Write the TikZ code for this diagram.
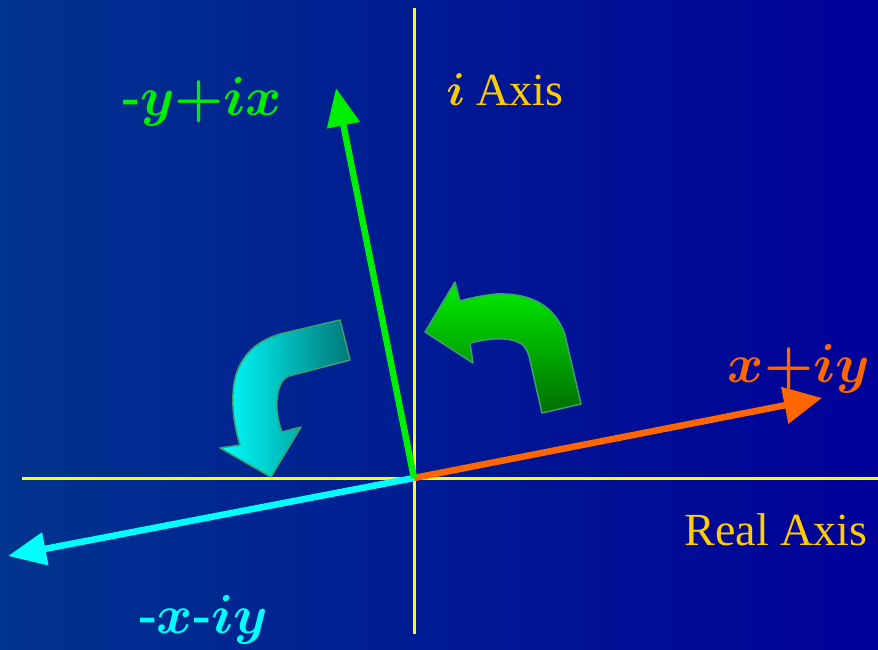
\documentclass[tikz,border=0pt]{standalone}
\usepackage{amsmath,bm,graphicx}
\usepackage{fontspec}
\setmainfont{Liberation Serif}
\usetikzlibrary{arrows.meta}
\definecolor{bgL}{RGB}{0,52,142}
\definecolor{bgR}{RGB}{0,0,152}
\definecolor{axisY}{RGB}{255,255,0}
\definecolor{txtY}{RGB}{255,204,0}
\definecolor{orangeA}{RGB}{255,102,0}
\definecolor{greenA}{RGB}{0,238,0}
\definecolor{cyanA}{RGB}{0,255,255}
\definecolor{edgeG}{RGB}{60,160,110}
\newcommand{\myscl}[1]{\scalebox{5.5}{\normalsize #1}}
\tikzset{
  axisline/.style={draw=axisY,line width=3pt},
  vec/.style={line width=6.5pt},
  mlabel/.style={inner sep=0pt},
  tlabel/.style={inner sep=0pt,text=txtY,font=\fontsize{46}{54}\selectfont},
  curv/.style={draw=edgeG,line width=1.5pt,line join=round}
}
\begin{document}
\begin{tikzpicture}[x=1pt,y=-1pt]
\useasboundingbox (0,0) rectangle (878,650);
\shade[left color=bgL,right color=bgR] (0,0) rectangle (878,650);
% axes
\coordinate (O) at (414,478);
\coordinate (xl) at (22,478);
\coordinate (xr) at (878,478);
\coordinate (yt) at (414,8);
\coordinate (yb) at (414,634);
\draw[axisline] (xl) -- (xr);
\draw[axisline] (yt) -- (yb);
% curved arrows
\shade[curv,top color=greenA,bottom color={rgb,255:red,0;green,110;blue,0}]
  (542,413) -- (581,404) -- (565,335)
  .. controls (555,305) and (530,293) .. (497,294)
  .. controls (485,295) and (470,298) .. (460,301)
  -- (455,282) -- (425,332) -- (473,363) -- (470,343)
  .. controls (490,338) and (510,336) .. (523,345)
  .. controls (527,350) and (528,353) .. (529,356)
  -- cycle;
\shade[curv,shading angle=45,left color=cyanA,right color={rgb,255:red,0;green,120;blue,120}]
  (340,320) -- (350,360) -- (289,376)
  .. controls (279,380) and (276,395) .. (277,410)
  .. controls (278,420) and (280,427) .. (282,432)
  -- (301,427) -- (271,477) -- (220,448) -- (240,445)
  .. controls (232,420) and (229,385) .. (240,365)
  .. controls (248,350) and (260,340) .. (280,334)
  -- cycle;
% vectors
\coordinate (p1) at (822,398);
\coordinate (p2) at (336,88);
\coordinate (p3) at (8,556);
\draw[vec,orangeA,-{Triangle[length=38pt,width=36pt]}] (O) -- (p1);
\draw[vec,cyanA,-{Triangle[length=38pt,width=32pt]}] (O) -- (p3);
\draw[vec,greenA,-{Triangle[length=38pt,width=32pt]}] (O) -- (p2);
% labels
\node[mlabel,text=greenA] (lg) at (202,102) {\myscl{{\bfseries -}$\bm{y{+}ix}$}};
\node[mlabel,text=orangeA] (lo) at (799,369) {\myscl{$\bm{x{+}iy}$}};
\node[mlabel,text=cyanA] (lc) at (203,620) {\myscl{{\bfseries -}$\bm{x}${\bfseries -}$\bm{iy}$}};
\node[tlabel] (li) at (505,90) {\scalebox{4.6}{\normalsize$\bm{i}$}\hspace{0.25em}Axis};
\node[tlabel] (lr) at (776,530) {Real Axis};
\end{tikzpicture}
\end{document}
